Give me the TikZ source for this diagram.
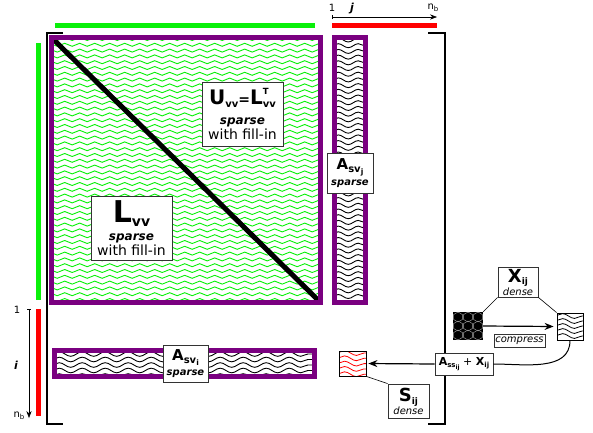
\documentclass[tikz,border=0pt]{standalone}
\usepackage{fontspec}
\setmainfont{DejaVu Sans}
\usetikzlibrary{decorations.pathmorphing,arrows.meta}
\definecolor{lime}{RGB}{10,240,10}
\definecolor{mpurple}{RGB}{122,0,128}
\newcommand{\sbx}[3]{\raisebox{#2}{\fontsize{#1}{#1}\selectfont #3}}
\begin{document}
\begin{tikzpicture}[x=1pt,y=-1pt,
    box/.style={draw=black!80, fill=white, line width=0.8pt, inner sep=0pt, align=center,
      font=\fontsize{10}{15}\selectfont},
    bar/.style={line width=5pt},
    wavy/.style={decorate, decoration={snake, amplitude=#1, segment length=#1*10}},
    tick/.style={font=\fontsize{10}{10}\selectfont, inner sep=0pt}]
  \useasboundingbox (0,0) rectangle (593,432);

  % index ranges
  \draw[bar, lime] (55,25) -- (315,25);
  \draw[bar, red] (332,25) -- (437,25);
  \draw[bar, lime] (38,43) -- (38,300);
  \draw[bar, red] (38,309) -- (38,416);

  \coordinate (j0) at (332,17);
  \coordinate (j1) at (437,17);
  \draw[line width=0.6pt, {Bar[width=4pt]}-{Stealth[length=7pt]}] (j0) -- (j1);
  \node[tick] (j1lbl) at (332,8) {1};
  \node[tick, font=\fontsize{11}{11}\selectfont\bfseries\itshape] (jlbl) at (352,9) {j};
  \node[tick] (jnb) at (433,8) {n\sbx{7}{-2pt}{b}};

  \coordinate (i0) at (29,309);
  \coordinate (i1) at (29,418);
  \draw[line width=0.6pt, {Bar[width=4pt]}-{Stealth[length=7pt]}] (i0) -- (i1);
  \node[tick] (i1lbl) at (17,310) {1};
  \node[tick, font=\fontsize{11}{11}\selectfont\bfseries\itshape] (ilbl) at (16,365) {i};
  \node[tick] (inb) at (19,416) {n\sbx{7}{-2pt}{b}};

  % matrix brackets
  \draw[line width=2.5pt] (63,33) -- (47,33) -- (47,424) -- (63,424);
  \draw[line width=2.5pt] (428,33) -- (445,33) -- (445,424) -- (428,424);

  % blocks
  \begin{scope}
    \clip (51.5,37.5) rectangle (320.5,302.5);
    \foreach \y in {39,44.8,...,302}
      \draw[lime, line width=0.9pt, wavy=1.5pt] (45,\y) -- (330,\y);
  \end{scope}
  \draw[line width=5pt] (52,38) -- (320,302);
  \draw[bar, mpurple] (51.5,37.5) rectangle (320.5,302.5);

  \begin{scope}
    \clip (334.5,37.5) rectangle (365.5,302.5);
    \foreach \y in {40,45.7,...,302}
      \draw[line width=0.9pt, wavy=2pt] (332,\y) -- (370,\y);
  \end{scope}
  \draw[bar, mpurple] (334.5,37.5) rectangle (365.5,302.5);

  \begin{scope}
    \clip (54.5,350.5) rectangle (314.5,376.5);
    \foreach \y in {354,359.5,...,376}
      \draw[line width=0.9pt, wavy=2.3pt] (52,\y) -- (318,\y);
  \end{scope}
  \draw[bar, mpurple] (54.5,350.5) rectangle (314.5,376.5);

  % small blocks
  \node[fill=black, minimum width=30pt, minimum height=28pt, inner sep=0pt] (Xdense) at (468,326) {};
  \begin{scope}
    \clip (Xdense.south west) rectangle (Xdense.north east);
    \foreach \cx in {458,468,478}
      \foreach \cy in {317,326,335}
        \draw[gray!70, line width=0.4pt] (\cx,\cy) +(90:5) -- +(30:5) -- +(-30:5)
          -- +(-90:5) -- +(-150:5) -- +(150:5) -- cycle;
  \end{scope}

  \begin{scope}
    \clip (557,313) rectangle (583,340);
    \foreach \y in {316,321,...,337}
      \draw[line width=0.8pt, wavy=2.4pt] (555,\y) -- (586,\y);
  \end{scope}
  \node[draw, line width=0.8pt, minimum width=26pt, minimum height=27pt, inner sep=0pt] (Xcomp) at (570,326.5) {};

  \begin{scope}
    \clip (339,351) rectangle (366,376);
    \foreach \y in {353,358.3,...,376}
      \draw[red, line width=0.8pt, wavy=2.4pt] (337,\y) -- (369,\y);
  \end{scope}
  \node[draw, line width=0.8pt, minimum width=27pt, minimum height=25pt, inner sep=0pt] (Sred) at (352.5,363.5) {};

  % labels
  \node[box, minimum width=81pt, minimum height=64pt] (Uvv) at (242.5,114)
    {{\fontsize{20}{20}\selectfont\bfseries U\sbx{10}{-3pt}{vv}{\fontsize{14}{14}\selectfont=}L\rlap{\sbx{8.5}{10pt}{T}}\sbx{10}{-3pt}{vv}}\\[5pt]
     {\fontsize{12}{12}\selectfont\bfseries\itshape sparse}\\
     {\fontsize{14}{14}\selectfont with fill-in}};
  \node[box, minimum width=81pt, minimum height=64pt] (Lvv) at (131.5,228)
    {{\fontsize{30}{30}\selectfont\bfseries L\sbx{14}{-4pt}{vv}}\\[3pt]
     {\fontsize{12}{12}\selectfont\bfseries\itshape sparse}\\
     {\fontsize{14}{14}\selectfont with fill-in}};
  \node[box, minimum width=46pt, minimum height=40pt] (Asvj) at (350,173)
    {{\fontsize{15}{15}\selectfont\bfseries A\sbx{10}{-3pt}{sv\sbx{7.5}{-2pt}{j}}}\\[1pt]
     {\fontsize{10}{10}\selectfont\bfseries\itshape sparse}};
  \node[box, minimum width=45pt, minimum height=37pt] (Asvi) at (185.5,363.5)
    {{\fontsize{15}{15}\selectfont\bfseries A\sbx{10}{-3pt}{sv\sbx{7.5}{-2pt}{i}}}\\
     {\fontsize{10}{10}\selectfont\bfseries\itshape sparse}};
  \node[box, minimum width=40pt, minimum height=30pt] (Xij) at (518,282)
    {{\fontsize{18}{18}\selectfont\bfseries X\sbx{9}{-3pt}{ij}}\\[-2pt]
     {\fontsize{10}{10}\selectfont\itshape dense}};
  \node[box, minimum width=41pt, minimum height=34pt] (Sij) at (408.5,401)
    {{\fontsize{18}{18}\selectfont\bfseries S\sbx{9}{-3pt}{ij}}\\[-2pt]
     {\fontsize{10}{10}\selectfont\itshape dense}};
  \node[box, minimum width=51pt, minimum height=13pt] (cmp) at (519.5,340.5)
    {\fontsize{10}{10}\selectfont\itshape compress};
  \node[box, minimum width=58pt, minimum height=22pt] (Asum) at (464,364)
    {\fontsize{11}{11}\selectfont\bfseries A\sbx{7}{-2pt}{ss\sbx{6}{-1.5pt}{ij}}\mdseries\ + \bfseries X\sbx{7}{-2pt}{ij}};

  % connectors
  \draw[line width=0.6pt] (Xij.south west) -- (Xdense.north east);
  \draw[line width=0.6pt] (Xij.south east) -- (Xcomp.north west);
  \draw[line width=0.6pt] (Sij.north west) -- (Sred.south east);
  \draw[line width=1.2pt, -{Stealth[length=9pt, width=7pt]}, shorten >=3pt] (Xdense.east) -- (Xcomp.west);
  \draw[line width=1pt] (Xcomp.south) to[out=-90, in=0] (Asum.east);
  \draw[line width=1.2pt, -{Stealth[length=9pt, width=7pt]}, shorten >=2pt] (Asum.west) -- (Sred.east);
\end{tikzpicture}
\end{document}
